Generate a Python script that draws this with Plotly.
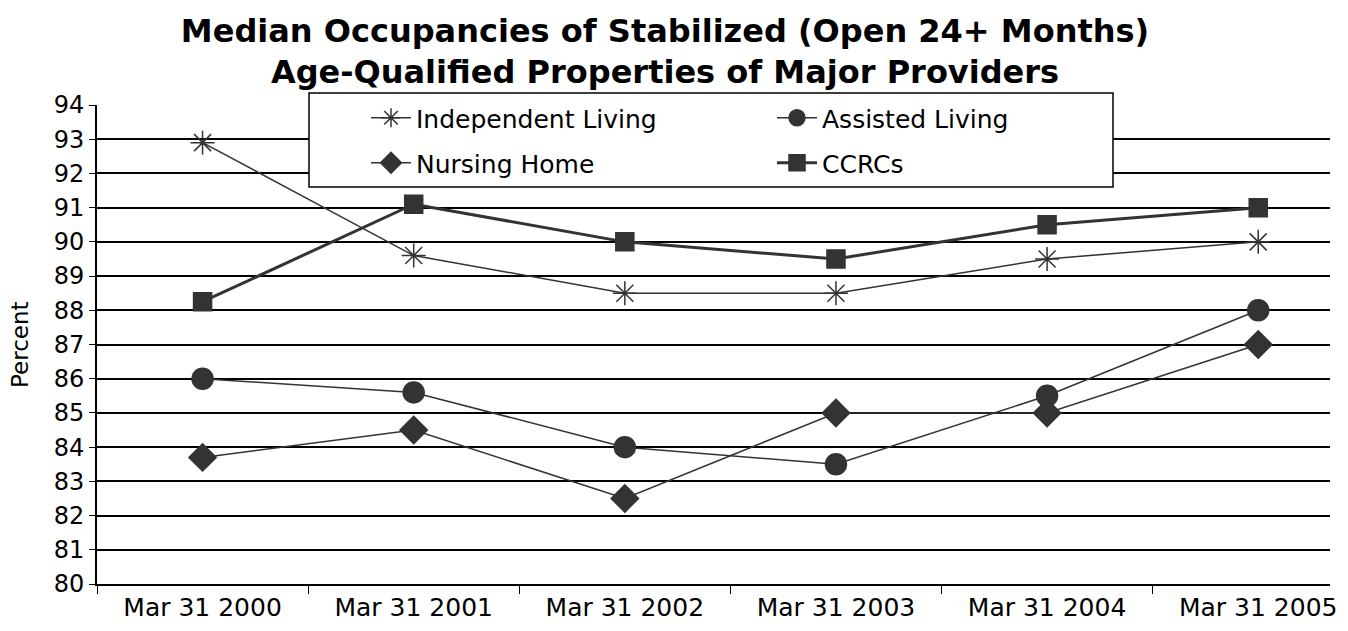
import plotly.graph_objects as go

# --- DATA ---
categories = ["Mar 31 2000", "Mar 31 2001", "Mar 31 2002",
              "Mar 31 2003", "Mar 31 2004", "Mar 31 2005"]
independent_living = [92.9, 89.6, 88.5, 88.5, 89.5, 90.0]
assisted_living = [86.0, 85.6, 84.0, 83.5, 85.5, 88.0]
nursing_home = [83.7, 84.5, 82.5, 85.0, 85.0, 87.0]
ccrcs = [88.25, 91.1, 90.0, 89.5, 90.5, 91.0]
y_ticks = list(range(80, 95))

# the page body adds an 8px margin, so the figure sits at (8, 8) on screen
OFF = 8
W, H = 1332, 615
ML, MR, MT, MB = 89, 10, 97, 39
PW, PH = W - ML - MR, H - MT - MB
INK = "#333333"
FONT = "DejaVu Sans"


def px_x(x):
    # screen x -> paper fraction
    return (x - OFF - ML) / PW


def px_y(y):
    # screen y -> paper fraction
    return (H - MB - (y - OFF)) / PH


fig = go.Figure()

series = [
    ("Independent Living", independent_living, "asterisk-open", 20, 1.5, "legend"),
    ("Assisted Living", assisted_living, "circle", 21, 1.5, "legend"),
    ("Nursing Home", nursing_home, "diamond", 21, 1.5, "legend2"),
    ("CCRCs", ccrcs, "square", 18, 3, "legend2"),
]
for name, vals, sym, size, lw, leg in series:
    fig.add_trace(go.Scatter(
        x=categories, y=vals, name=name, mode="lines+markers",
        line=dict(color=INK, width=lw),
        marker=dict(symbol=sym, size=size, color=INK,
                    line=dict(color=INK, width=1.5)),
        legend=leg,
    ))

# legend frame
fig.add_shape(type="rect", xref="paper", yref="paper", layer="above",
              x0=px_x(309), x1=px_x(1113), y0=px_y(187), y1=px_y(93),
              line=dict(color="black", width=1.5), fillcolor="white")

# y axis title, placed by hand
fig.add_annotation(text="Percent", textangle=-90, showarrow=False,
                   xref="paper", yref="paper", x=px_x(20), y=px_y(345),
                   xanchor="center", yanchor="middle",
                   font=dict(family=FONT, size=23, color="black"))

leg_common = dict(orientation="h", xanchor="left", yanchor="middle",
                  bgcolor="rgba(0,0,0,0)", borderwidth=0,
                  font=dict(family=FONT, size=25, color="black"),
                  entrywidth=351, itemwidth=40, traceorder="normal")

fig.update_layout(
    width=W, height=H,
    margin=dict(l=ML, r=MR, t=MT, b=MB, autoexpand=False),
    paper_bgcolor="white", plot_bgcolor="white",
    title=dict(
        text="Median Occupancies of Stabilized (Open 24+ Months)<br>Age-Qualified Properties of Major Providers",
        xref="container", yref="container",
        x=(665 - OFF) / W, xanchor="center", y=1 - 33.5 / H, yanchor="middle",
        font=dict(family=FONT, size=32, color="black", weight="bold"),
    ),
    legend=dict(x=px_x(366), y=px_y(118), **leg_common),
    legend2=dict(x=px_x(366), y=px_y(163), **leg_common),
    xaxis=dict(
        type="category", range=[-0.5, 5.34],
        showgrid=False, showline=True, linecolor="black", linewidth=2,
        ticks="outside", tickson="boundaries", ticklen=8, tickcolor="black",
        tickfont=dict(family=FONT, size=25, color="black"),
        ticklabelstandoff=0, automargin=False,
    ),
    yaxis=dict(
        range=[80, 94], tickvals=y_ticks,
        showgrid=True, gridcolor="black", gridwidth=1.5,
        showline=True, linecolor="black", linewidth=2,
        ticks="outside", ticklen=6, tickcolor="black",
        tickfont=dict(family=FONT, size=24, color="black"),
        zeroline=False, automargin=False,
    ),
)

fig.write_html("out.html")
